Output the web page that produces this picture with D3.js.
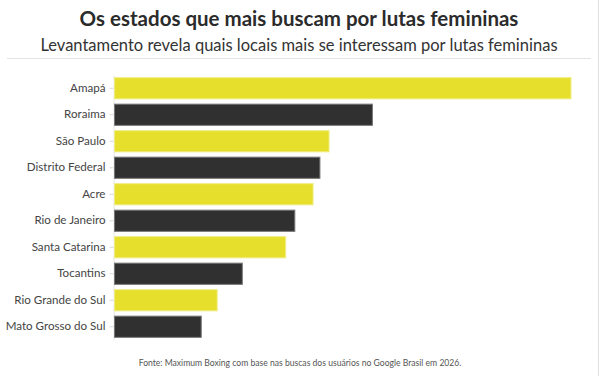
<!DOCTYPE html>
<html>
<head>
<meta charset="utf-8">
<script src="https://cdn.jsdelivr.net/npm/d3@7"></script>
<style>
  body { margin: 0; background: #fff; }
  svg { display: block; font-family: Lato, "Open Sans", sans-serif; }
</style>
</head>
<body>
<div id="chart"></div>
<script>
// data
const states = ["Amapá", "Roraima", "São Paulo", "Distrito Federal", "Acre",
  "Rio de Janeiro", "Santa Catarina", "Tocantins", "Rio Grande do Sul", "Mato Grosso do Sul"];
const interest = [100, 56.5, 47, 45, 43.5, 39.5, 37.5, 28, 22.5, 19];
const highlight = [true, false, true, false, true, false, true, false, true, false];

const titleText = "Os estados que mais buscam por lutas femininas";
const subtitleText = "Levantamento revela quais locais mais se interessam por lutas femininas";
const sourceText = "Fonte: Maximum Boxing com base nas buscas dos usuários no Google Brasil em 2026.";

const width = 600;
const height = 376;
const margin = { top: 75, right: 29.5, bottom: 36, left: 114 };

const rows = states.map((s, i) => ({ state: s, value: interest[i], hl: highlight[i] }));

const svg = d3.select("#chart")
  .append("svg")
  .attr("width", width)
  .attr("height", height);

// header
svg.append("text")
  .attr("x", width / 2 - 1)
  .attr("y", 26)
  .attr("text-anchor", "middle")
  .attr("font-size", 20.5)
  .attr("font-weight", 700)
  .attr("fill", "#2b2b2b")
  .text(titleText);

svg.append("text")
  .attr("x", width / 2 - 1)
  .attr("y", 50.5)
  .attr("text-anchor", "middle")
  .attr("font-size", 16.5)
  .attr("fill", "#333")
  .text(subtitleText);

svg.append("line")
  .attr("x1", 7)
  .attr("x2", 591)
  .attr("y1", 58.5)
  .attr("y2", 58.5)
  .attr("stroke", "#e4e4e4");

svg.append("line")
  .attr("x1", 598.5)
  .attr("x2", 598.5)
  .attr("y1", 0)
  .attr("y2", height)
  .attr("stroke", "#e0e0e0");

// scales
const x = d3.scaleLinear()
  .domain([0, d3.max(interest)])
  .range([margin.left, width - margin.right]);

const y = d3.scaleBand()
  .domain(states)
  .range([margin.top, height - margin.bottom])
  .paddingInner(0.2)
  .paddingOuter(0.1);

const yAxis = g => g
  .attr("transform", `translate(${margin.left - 0.5}, 0)`)
  .call(d3.axisLeft(y).tickSize(4).tickPadding(4).tickSizeOuter(0))
  .call(g => g.select(".domain").attr("stroke", "#e6e6e6"))
  .call(g => g.selectAll(".tick line").attr("stroke", "#d8d8d8"))
  .call(g => g.selectAll(".tick text")
    .attr("fill", "#444")
    .attr("font-size", 11.6)
    .attr("font-family", "Lato, sans-serif"));

svg.append("g").call(yAxis);

svg.append("g")
  .selectAll("rect")
  .data(rows)
  .join("rect")
  .attr("x", x(0) + 0.5)
  .attr("y", d => y(d.state))
  .attr("width", d => x(d.value) - x(0))
  .attr("height", y.bandwidth())
  .attr("fill", d => d.hl ? "#e6e02c" : "#303030")
  .attr("stroke", d => d.hl ? "#f1ed86" : "#777")
  .attr("stroke-width", 1);

// footer
svg.append("text")
  .attr("x", width / 2)
  .attr("y", 366)
  .attr("text-anchor", "middle")
  .attr("font-size", 8.6)
  .attr("fill", "#555")
  .text(sourceText);
</script>
</body>
</html>
